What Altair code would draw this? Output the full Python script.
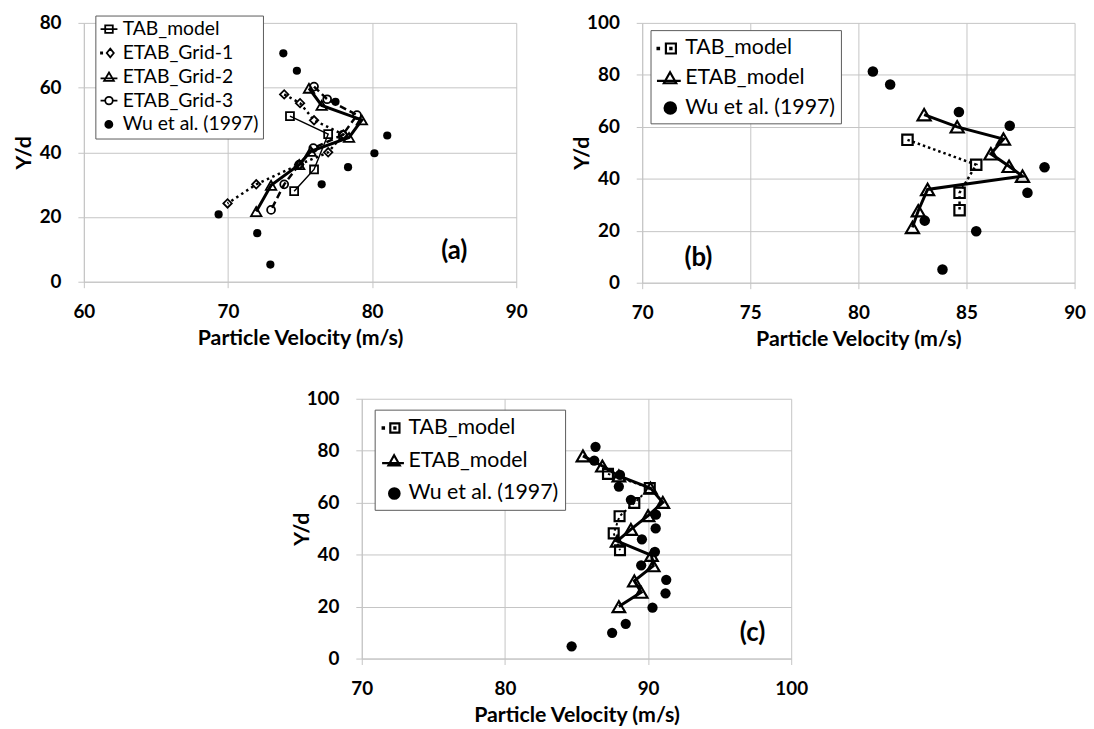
import altair as alt
import pandas as pd

# ---------------- data ----------------
# Panel (a)
A_TAB_X = [74.3, 76.95, 75.97, 74.59]
A_TAB_Y = [51.2, 45.6, 34.7, 28.0]
A_G1_X = [73.9, 75.0, 75.97, 78.0, 76.95, 74.94, 71.96, 69.97]
A_G1_Y = [57.9, 55.2, 49.9, 45.5, 40.0, 36.2, 30.1, 24.2]
A_G2_X = [75.62, 76.5, 79.29, 78.4, 75.74, 74.94, 72.99, 71.96]
A_G2_Y = [59.8, 54.5, 50.0, 44.6, 40.3, 36.2, 29.8, 21.7]
A_G3_X = [75.97, 76.88, 78.95, 77.96, 75.92, 74.94, 73.9, 72.99]
A_G3_Y = [60.3, 56.4, 51.5, 45.4, 41.3, 36.2, 30.1, 22.2]
A_WU_X = [73.84, 74.78, 77.46, 81.05, 80.16, 78.33, 76.5, 69.35, 72.03, 72.94]
A_WU_Y = [70.6, 65.2, 55.6, 45.2, 39.7, 35.4, 30.1, 20.8, 15.0, 5.3]

# Panel (b)
B_TAB_X = [82.27, 85.45, 84.68, 84.68]
B_TAB_Y = [55.0, 45.4, 34.6, 27.9]
B_ETAB_X = [83.04, 84.57, 86.71, 86.13, 86.97, 87.59, 83.2, 82.77, 82.5]
B_ETAB_Y = [64.7, 60.0, 55.3, 49.6, 44.8, 41.0, 35.9, 27.7, 21.3]
B_WU_X = [80.67, 81.47, 84.65, 87.0, 88.61, 87.82, 83.07, 85.45, 83.89]
B_WU_Y = [81.3, 76.3, 65.7, 60.4, 44.4, 34.6, 23.9, 19.8, 5.1]

# Panel (c)
C_TAB_X = [87.2, 90.12, 89.04, 88.01, 87.6, 88.04]
C_TAB_Y = [71.1, 65.6, 59.9, 54.8, 48.2, 41.7]
C_ETAB_X = [85.45, 86.81, 87.96, 90.17, 91.03, 90.0, 88.8, 87.84, 90.24, 90.36, 89.04, 89.52, 87.96]
C_ETAB_Y = [78.0, 74.1, 70.3, 65.6, 60.1, 55.0, 49.7, 45.2, 39.7, 35.7, 29.9, 25.5, 20.0]
C_WU_X = [86.33, 86.24, 88.04, 87.96, 88.8, 90.55, 90.53, 89.57, 90.48, 89.52, 91.27, 91.22, 90.31, 88.44, 87.49, 84.66]
C_WU_Y = [81.5, 76.2, 70.7, 66.2, 61.1, 55.4, 50.1, 45.9, 41.1, 35.9, 30.3, 25.1, 19.6, 13.4, 9.9, 4.7]

A_NAMES = ["TAB_model", "ETAB_Grid-1", "ETAB_Grid-2", "ETAB_Grid-3", "Wu et al. (1997)"]
BC_NAMES = ["TAB_model", "ETAB_model", "Wu et al. (1997)"]

FONT = "Lato"
GRID = "#c4c4c4"

# legend symbols (line stub + marker), unit coordinates
A_PATHS = [
    "M-1,0H1M-0.45,-0.45H0.45V0.45H-0.45Z",
    "M-0.95,-0.07h0.14v0.14h-0.14ZM0.15,-0.52L0.57,0L0.15,0.52L-0.27,0Z",
    "M-1,0.2H1M0,-0.5L0.58,0.48H-0.58Z",
    "M-1,0H-0.45M0.45,0H1M0.45,0A0.45,0.45 0 1,1 -0.45,0A0.45,0.45 0 1,1 0.45,0Z",
    "M0.4,0A0.42,0.42 0 1,1 -0.44,0A0.42,0.42 0 1,1 0.4,0Z",
]
A_FILLS = ["transparent", "transparent", "transparent", "transparent", "black"]
BC_PATHS = [
    "M-0.95,-0.06h0.12v0.12h-0.12ZM-0.25,-0.42H0.59V0.42H-0.25ZM0.12,-0.05h0.1v0.1h-0.1Z",
    "M-1,0.22H1M0.1,-0.5L0.62,0.42H-0.42Z",
    "M0.6,0A0.48,0.48 0 1,1 -0.36,0A0.48,0.48 0 1,1 0.6,0Z",
]
BC_FILLS = ["transparent", "transparent", "black"]


def make_panel(w, h, xdom, ydom, xticks, yticks, series, wux, wuy, wusize,
               names, paths, fills, leg, tag, tagx, tagy):
    xs = alt.Scale(domain=xdom, nice=False, zero=False)
    ys = alt.Scale(domain=ydom, nice=False, zero=False)
    common = dict(grid=True, gridColor=GRID, gridWidth=1, domainColor=GRID,
                  tickColor=GRID, tickSize=6, labelFont=FONT, labelFontSize=19,
                  labelFontWeight="bold", labelColor="black", labelFlush=False,
                  labelOverlap=False, titleFont=FONT, titleFontSize=21.5,
                  titleFontWeight="bold", titleColor="black")
    xaxis = alt.Axis(values=xticks, title="Particle Velocity (m/s)", labelPadding=15,
                     titleY=57, titleBaseline="middle", **common)
    yaxis = alt.Axis(values=yticks, title="Y/d", labelPadding=17, titleX=-60,
                     titleY=h / 2, titleAngle=270, titleAlign="center",
                     titleBaseline="middle", **common)

    wu_df = pd.DataFrame({"x": wux, "y": wuy})
    layers = [alt.Chart(wu_df).mark_circle(color="black", size=wusize, opacity=1).encode(
        x=alt.X("x:Q", scale=xs, axis=xaxis), y=alt.Y("y:Q", scale=ys, axis=yaxis))]
    for s in series:
        df = pd.DataFrame({"x": s["x"], "y": s["y"], "i": list(range(len(s["x"])))})
        b = alt.Chart(df)
        lkw = dict(color="black", strokeWidth=s["lw"])
        if s["dash"]:
            lkw["strokeDash"] = s["dash"]
        layers.append(b.mark_line(**lkw).encode(
            x=alt.X("x:Q", scale=xs), y=alt.Y("y:Q", scale=ys), order="i:Q"))
        layers.append(b.mark_point(shape=s["shape"], size=s["size"], filled=False,
                                   color="black", strokeWidth=s["mw"], opacity=1).encode(
            x=alt.X("x:Q", scale=xs), y=alt.Y("y:Q", scale=ys)))

    n = len(names)
    leg_df = pd.DataFrame({"series": names, "x": [xdom[0] - 1000] * n,
                           "y": [ydom[0] - 1000] * n})
    legend = alt.Legend(title=None, orient="none", legendX=leg["x"], legendY=leg["y"],
                        direction="vertical", fillColor="white", strokeColor="#5a5a5a",
                        padding=leg["pad"], labelFont=FONT, labelFontSize=leg["fs"],
                        labelColor="black", symbolSize=leg["ss"],
                        symbolStrokeWidth=leg["sw"], rowPadding=leg["rp"],
                        labelOffset=leg["lo"], labelLimit=400, symbolLimit=0)
    layers.append(alt.Chart(leg_df).mark_point(filled=True, clip=True, opacity=1).encode(
        x=alt.X("x:Q", scale=xs), y=alt.Y("y:Q", scale=ys),
        shape=alt.Shape("series:N", scale=alt.Scale(domain=names, range=paths), legend=legend),
        fill=alt.Fill("series:N", scale=alt.Scale(domain=names, range=fills), legend=legend),
        stroke=alt.Stroke("series:N", scale=alt.Scale(domain=names, range=["black"] * n),
                          legend=legend),
    ))
    tag_df = pd.DataFrame({"x": [tagx], "y": [tagy], "t": [tag]})
    layers.append(alt.Chart(tag_df).mark_text(font=FONT, fontSize=26, fontWeight="bold",
                                              color="black", align="center",
                                              baseline="middle").encode(
        x=alt.X("x:Q", scale=xs), y=alt.Y("y:Q", scale=ys), text="t:N"))
    return alt.layer(*layers).properties(width=w, height=h)


pa = make_panel(
    436, 261, [60, 90], [0, 80], [60, 70, 80, 90], [0, 20, 40, 60, 80],
    [
        dict(x=A_TAB_X, y=A_TAB_Y, shape="square", size=64, dash=None, lw=1.5, mw=1.8),
        dict(x=A_G1_X, y=A_G1_Y, shape="diamond", size=72, dash=[2.5, 3.5], lw=2.5, mw=1.8),
        dict(x=A_G2_X, y=A_G2_Y, shape="triangle-up", size=110, dash=None, lw=3, mw=1.8),
        dict(x=A_G3_X, y=A_G3_Y, shape="circle", size=64, dash=[7, 4], lw=2.5, mw=1.8),
    ],
    A_WU_X, A_WU_Y, 68, A_NAMES, A_PATHS, A_FILLS,
    dict(x=11.6, y=-7.4, pad=4, fs=19.5, ss=289, sw=1.8, rp=3, lo=4),
    "(a)", 85.7, 9.4)

pb = make_panel(
    436, 262, [70, 90], [0, 100], [70, 75, 80, 85, 90], [0, 20, 40, 60, 80, 100],
    [
        dict(x=B_TAB_X, y=B_TAB_Y, shape="square", size=110, dash=[2.5, 3], lw=2.5, mw=2.2),
        dict(x=B_ETAB_X, y=B_ETAB_Y, shape="triangle-up", size=175, dash=None, lw=3, mw=2.2),
    ],
    B_WU_X, B_WU_Y, 113, BC_NAMES, BC_PATHS, BC_FILLS,
    dict(x=8.4, y=7.3, pad=5, fs=21.5, ss=576, sw=2.2, rp=6, lo=3),
    "(b)", 72.6, 9.4)

pc = make_panel(
    433, 262, [70, 100], [0, 100], [70, 80, 90, 100], [0, 20, 40, 60, 80, 100],
    [
        dict(x=C_TAB_X, y=C_TAB_Y, shape="square", size=100, dash=[2.5, 3], lw=2, mw=2.2),
        dict(x=C_ETAB_X, y=C_ETAB_Y, shape="triangle-up", size=160, dash=None, lw=3, mw=2.2),
    ],
    C_WU_X, C_WU_Y, 107, BC_NAMES, BC_PATHS, BC_FILLS,
    dict(x=13, y=11, pad=6, fs=21.5, ss=484, sw=2.2, rp=10, lo=3),
    "(c)", 97.3, 9.9)

IND = dict(shape="independent", fill="independent", stroke="independent")
row1 = alt.hconcat(pa, pb, spacing=44).resolve_scale(**IND).resolve_legend(**IND)
chart = (alt.vconcat(row1, pc, spacing=40, center=True)
         .resolve_scale(**IND).resolve_legend(**IND)
         .configure_view(stroke=None)
         .properties(padding={"left": 5, "top": 3, "right": 0, "bottom": 0},
                     background="white"))

chart.save("out.html", embed_options={"renderer": "svg", "actions": False})
